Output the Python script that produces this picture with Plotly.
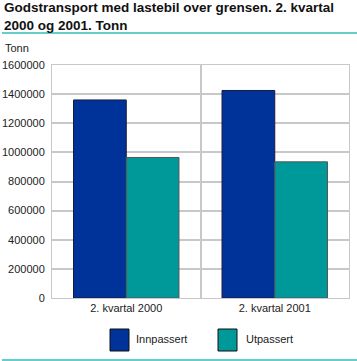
import plotly.graph_objects as go

categories = ["2. kvartal 2000", "2. kvartal 2001"]
innpassert = [1360000, 1425000]
utpassert = [965000, 935000]
series_names = ["Innpassert", "Utpassert"]
y_ticks = [0, 200000, 400000, 600000, 800000, 1000000, 1200000, 1400000, 1600000]

W, H = 357, 361
L, R, T, B = 52, 8, 65, 63
pw, ph = W - L - R, H - T - B

def px_x(x):
    return (x - L) / pw

def px_y(y):
    return (H - B - y) / ph

blue = "#003399"
teal = "#009999"
font = "Liberation Sans, Arial, sans-serif"

fig = go.Figure()
fig.add_trace(go.Bar(x=categories, y=innpassert, name=series_names[0],
                     marker=dict(color=blue, line=dict(color="#1a1a3a", width=1))))
fig.add_trace(go.Bar(x=categories, y=utpassert, name=series_names[1],
                     marker=dict(color=teal, line=dict(color="#555555", width=1))))

fig.update_layout(
    width=W, height=H,
    margin=dict(l=L, r=R, t=T, b=B, autoexpand=False),
    paper_bgcolor="white", plot_bgcolor="white",
    barmode="group", bargap=0.29, bargroupgap=0,
    showlegend=False,
    font=dict(family=font, size=11, color="#222222"),
    xaxis=dict(type="category", tickson="boundaries", showgrid=True, automargin=False,
               gridcolor="#c8c8c8", gridwidth=2, showline=True, linecolor="#c8c8c8",
               linewidth=1, mirror=True, ticks="", tickfont=dict(size=11)),
    yaxis=dict(range=[0, 1600000], tickvals=y_ticks, automargin=False,
               ticktext=[str(v) for v in y_ticks],
               showgrid=True, gridcolor="#c8c8c8", gridwidth=2,
               showline=True, linecolor="#c8c8c8", linewidth=1, mirror=True,
               ticks="outside", ticklen=4, tickcolor="white", tickfont=dict(size=11),
               zeroline=False),
)

fig.add_annotation(text="<b>Godstransport med lastebil over grensen. 2. kvartal<br>2000 og 2001. Tonn</b>",
                   xref="paper", yref="paper", x=px_x(2), y=px_y(-2), xanchor="left", yanchor="top",
                   align="left", showarrow=False, font=dict(size=13.5, color="#111111", family=font))
fig.add_annotation(text="Tonn", xref="paper", yref="paper", x=px_x(3), y=px_y(48),
                   xanchor="left", yanchor="middle", showarrow=False, font=dict(size=11))

# teal rules
fig.add_shape(type="line", xref="paper", yref="paper", x0=px_x(2), x1=px_x(357),
              y0=px_y(33), y1=px_y(33), line=dict(color="#66cccc", width=2))
fig.add_shape(type="line", xref="paper", yref="paper", x0=px_x(2), x1=px_x(357),
              y0=px_y(360), y1=px_y(360), line=dict(color="#66cccc", width=2))

# legend
legend_items = [(series_names[0], blue, 110, 134), (series_names[1], teal, 218, 244)]
for name, col, sx, tx in legend_items:
    fig.add_shape(type="rect", xref="paper", yref="paper", x0=px_x(sx), x1=px_x(sx + 19),
                  y0=px_y(329), y1=px_y(351), fillcolor=col, line=dict(color="#111111", width=1))
    fig.add_annotation(text=name, xref="paper", yref="paper", x=px_x(tx), y=px_y(339),
                       xanchor="left", yanchor="middle", showarrow=False, font=dict(size=11))

fig.write_html("out.html", post_script="document.body.style.margin='0';",
               config={"displayModeBar": False})
